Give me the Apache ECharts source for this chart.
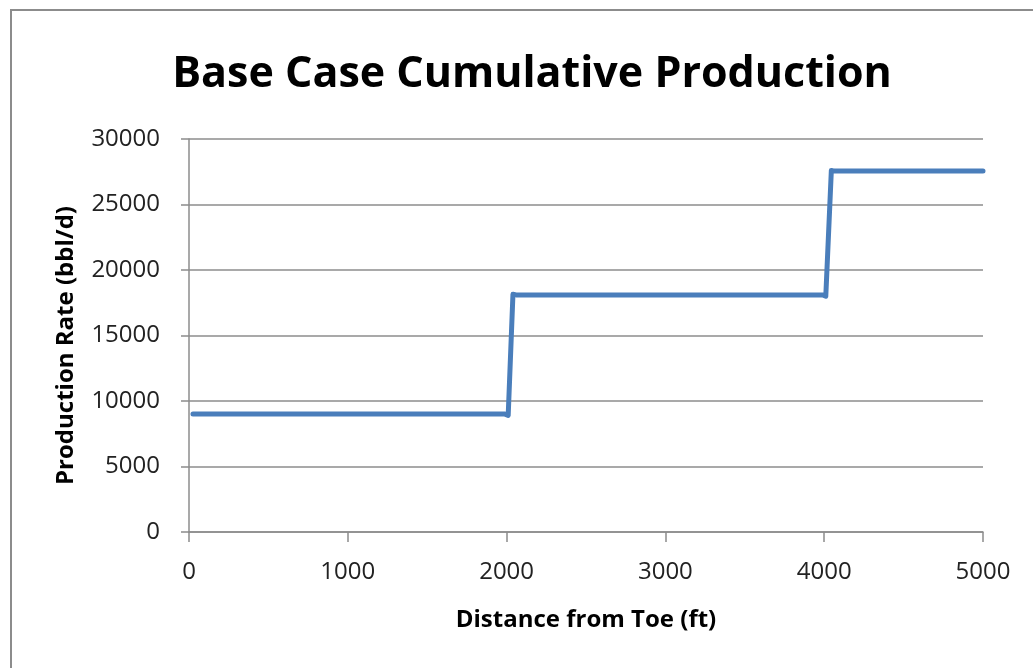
<!DOCTYPE html>
<html><head><meta charset="utf-8">
<script src="https://cdn.jsdelivr.net/npm/echarts@6/dist/echarts.min.js"></script>
<style>html,body{margin:0;padding:0;background:#fff}#c{width:1033px;height:668px}</style>
</head><body><div id="c"></div>
<script>
const titleText = "Base Case Cumulative Production";
const xName = "Distance from Toe (ft)";
const yName = "Production Rate (bbl/d)";
const distance = [25, 1990, 2000, 2010, 2040, 2060, 3990, 4000, 4010, 4045, 4060, 5000];
const rate     = [9000, 9000, 8950, 8900, 18150, 18100, 18100, 18050, 18000, 27600, 27550, 27550];
const xTicks = [0, 1000, 2000, 3000, 4000, 5000];
const yTicks = [0, 5000, 10000, 15000, 20000, 25000, 30000];

const chart = echarts.init(document.getElementById('c'), null, {renderer:'canvas'});
const font = "'Open Sans', 'Noto Sans', sans-serif";
chart.setOption({
  animation: false,
  backgroundColor: '#fff',
  title: {
    text: titleText, left: 527, top: 48, textAlign: 'center',
    textStyle: {fontFamily: font, fontWeight: 'bold', fontSize: 43, color: '#000'}
  },
  graphic: [{
    type: 'rect', shape: {x: 11, y: 10, width: 1040, height: 680},
    style: {fill: 'none', stroke: '#8c8c8c', lineWidth: 2}, silent: true
  }],
  grid: {left: 189, right: 50, top: 139, bottom: 136},
  xAxis: {
    type: 'value', min: xTicks[0], max: xTicks[xTicks.length-1], interval: 1000,
    name: xName, nameLocation: 'middle', nameGap: 76,
    nameTextStyle: {fontFamily: font, fontWeight: 'bold', fontSize: 24, color: '#000'},
    axisLine: {show: true, lineStyle: {color: '#8c8c8c', width: 1.5}},
    axisTick: {show: true, inside: false, length: 10, lineStyle: {color: '#8c8c8c', width: 1.5}},
    axisLabel: {fontFamily: font, fontSize: 24, color: '#222', margin: 28, formatter: v => String(v)},
    splitLine: {show: false}
  },
  yAxis: {
    type: 'value', min: yTicks[0], max: yTicks[yTicks.length-1], interval: 5000,
    name: yName, nameLocation: 'middle', nameGap: 111, nameRotate: 90,
    nameTextStyle: {fontFamily: font, fontWeight: 'bold', fontSize: 24, color: '#000', padding: [0, 20, 0, 0]},
    axisLine: {show: true, lineStyle: {color: '#8c8c8c', width: 1.5}},
    axisTick: {show: true, inside: false, length: 8, lineStyle: {color: '#8c8c8c', width: 1.5}},
    axisLabel: {fontFamily: font, fontSize: 24, color: '#222', margin: 29, formatter: v => String(v)},
    splitLine: {show: true, lineStyle: {color: '#8c8c8c', width: 1.5}}
  },
  series: [{
    type: 'line', data: distance.map((d, i) => [d, rate[i]]),
    showSymbol: false, symbol: 'none',
    lineStyle: {color: '#4a7ebb', width: 5, cap: 'round', join: 'round'}
  }]
});
</script></body></html>
